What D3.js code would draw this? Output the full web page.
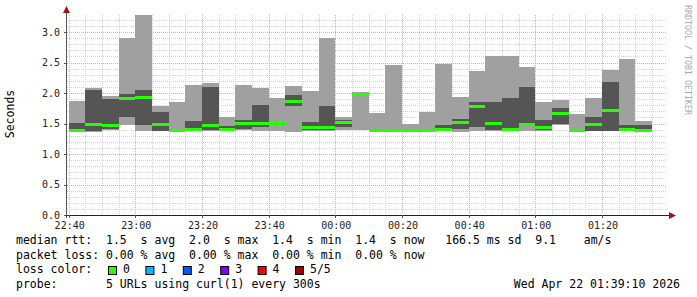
<!DOCTYPE html>
<meta charset="utf-8">
<style>
body { margin: 0; background: #fff; }
text { font-family: "DejaVu Sans Mono", monospace; fill: #000; }
.pre { white-space: pre; }
</style>
<script src="https://cdn.jsdelivr.net/npm/d3@7"></script>
<body>
<script>
// 5 minute buckets, sorted curl times per bucket (seconds)
const slots = ['22:40','22:45','22:50','22:55','23:00','23:05','23:10','23:15','23:20','23:25',
  '23:30','23:35','23:40','23:45','23:50','23:55','00:00','00:05','00:10','00:15',
  '00:20','00:25','00:30','00:35','00:40','00:45','00:50','00:55','01:00','01:05',
  '01:10','01:15','01:20','01:25','01:30'];
const pMin  = [1.36,1.36,1.40,1.47,1.38,1.37,1.36,1.38,1.38,1.37,1.40,1.38,1.37,1.36,1.38,1.38,1.39,1.39,1.36,1.36,
               1.37,1.37,1.37,1.36,1.38,1.37,1.37,1.37,1.38,1.47,1.37,1.37,1.37,1.37,1.37];
const pLow  = [1.38,1.38,1.41,1.60,1.47,1.38,1.37,1.39,1.40,1.39,1.41,1.45,1.49,1.79,1.39,1.39,1.45,1.96,1.37,1.37,
               1.38,1.38,1.39,1.41,1.45,1.39,1.39,1.47,1.40,1.50,1.38,1.38,1.38,1.38,1.38];
const median= [1.39,1.48,1.46,1.91,1.93,1.48,1.38,1.41,1.46,1.41,1.50,1.50,1.50,1.86,1.43,1.44,1.51,1.98,1.38,1.38,
               1.39,1.39,1.41,1.52,1.78,1.50,1.40,1.48,1.44,1.66,1.39,1.48,1.72,1.40,1.39];
const pHigh = [1.51,2.05,1.90,1.98,2.05,1.69,1.40,1.54,2.10,1.46,1.56,1.80,1.51,1.97,1.53,1.79,1.56,2.00,1.39,1.39,
               1.41,1.40,1.48,1.57,1.86,1.85,1.92,2.10,1.56,1.75,1.40,1.61,2.18,1.47,1.48];
const pMax  = [1.87,2.08,1.95,2.91,3.28,1.79,1.85,2.13,2.16,1.61,2.13,2.09,1.92,2.11,2.03,2.91,1.60,2.01,1.68,2.46,
               1.50,1.69,2.48,1.94,2.36,2.60,2.60,2.43,1.85,1.89,1.66,1.92,2.38,2.56,1.54];

const yTicks = [0, 0.5, 1.0, 1.5, 2.0, 2.5, 3.0];
const lossLabels = ['0', '1', '2', '3', '4', '5/5'];
const lossColors = ['#26ff00', '#00b8ff', '#0059ff', '#7e00ff', '#ff0000', '#a00000'];

const legendLines = [
  'median rtt:  1.5  s avg  2.0  s max  1.4  s min  1.4  s now   166.5 ms sd  9.1    am/s',
  'packet loss: 0.00 % avg  0.00 % max  0.00 % min  0.00 % now',
  'loss color:',
  'probe:       5 URLs using curl(1) every 300s'
];
const stamp = 'Wed Apr 22 01:39:10 2026';

const W = 697, H = 297;
const pl = 67, pr = 667, pt = 15, pb = 215;

const parseT = s => {
  const [h, m] = s.split(':').map(Number);
  return new Date(2026, 3, h >= 12 ? 21 : 22, h, m);
};
const times = slots.map(parseT);

const svg = d3.select('body').append('svg')
  .attr('width', W).attr('height', H);
svg.append('rect').attr('width', W).attr('height', H).attr('fill', '#fff');

const x = d3.scaleTime()
  .domain([new Date(2026, 3, 21, 22, 39, 30), new Date(2026, 3, 22, 1, 39, 30)])
  .range([pl, pr]);
const y = d3.scaleLinear().domain([0, 3.28]).range([pb, pt]);

// grid
const grid = svg.append('g');
const minorX = d3.timeMinute.every(5).range(x.domain()[0], x.domain()[1]);
const majorX = d3.timeMinute.every(20).range(x.domain()[0], x.domain()[1]);
grid.selectAll('.vx').data(minorX).join('line')
  .attr('x1', d => Math.round(x(d)) + 0.5).attr('x2', d => Math.round(x(d)) + 0.5)
  .attr('y1', pt).attr('y2', pb)
  .attr('stroke', '#d4d4d4').attr('stroke-dasharray', '1,1');
grid.selectAll('.hy').data(d3.range(1, 33).map(i => i / 10)).join('line')
  .attr('y1', d => Math.round(y(d)) + 0.5).attr('y2', d => Math.round(y(d)) + 0.5)
  .attr('x1', pl).attr('x2', pr)
  .attr('stroke', '#d4d4d4').attr('stroke-dasharray', '1,1');
grid.selectAll('.mx').data(majorX).join('line')
  .attr('x1', d => Math.round(x(d)) + 0.5).attr('x2', d => Math.round(x(d)) + 0.5)
  .attr('y1', pt).attr('y2', pb)
  .attr('stroke', '#eba3a3').attr('stroke-dasharray', '1,1');
grid.selectAll('.my').data(yTicks.slice(1)).join('line')
  .attr('y1', d => Math.round(y(d)) + 0.5).attr('y2', d => Math.round(y(d)) + 0.5)
  .attr('x1', pl).attr('x2', pr)
  .attr('stroke', '#eba3a3').attr('stroke-dasharray', '1,1');

// smoke
const x0 = i => x(times[i]);
const x1 = i => x(d3.timeMinute.offset(times[i], 5));
const smoke = svg.append('g').attr('shape-rendering', 'crispEdges');
smoke.selectAll('.light').data(slots).join('rect')
  .attr('x', (d, i) => x0(i)).attr('width', (d, i) => x1(i) - x0(i))
  .attr('y', (d, i) => y(pMax[i])).attr('height', (d, i) => y(pMin[i]) - y(pMax[i]))
  .attr('fill', '#a0a0a0');
smoke.selectAll('.dark').data(slots).join('rect')
  .attr('x', (d, i) => x0(i)).attr('width', (d, i) => x1(i) - x0(i))
  .attr('y', (d, i) => y(pHigh[i])).attr('height', (d, i) => y(pLow[i]) - y(pHigh[i]))
  .attr('fill', '#555555');
smoke.selectAll('.med').data(slots).join('rect')
  .attr('x', (d, i) => x0(i)).attr('width', (d, i) => x1(i) - x0(i))
  .attr('y', (d, i) => y(median[i]) - 1.5).attr('height', 3)
  .attr('fill', lossColors[0]);

// axes
const ax = svg.append('g');
ax.append('line').attr('x1', pl - 0.5).attr('x2', pl - 0.5).attr('y1', pb + 3).attr('y2', 11)
  .attr('stroke', '#555');
ax.append('line').attr('x1', pl - 3).attr('x2', 670).attr('y1', pb + 0.5).attr('y2', pb + 0.5)
  .attr('stroke', '#222');
ax.append('path').attr('d', `M${pl - 4},13 L${pl - 0.5},6 L${pl + 3},13 Z`).attr('fill', '#9b1414');
ax.append('path').attr('d', `M669,${pb - 3} L676,${pb + 0.5} L669,${pb + 4} Z`).attr('fill', '#9b1414');
ax.selectAll('.yt').data(yTicks).join('line')
  .attr('x1', pl - 3).attr('x2', pl).attr('y1', d => Math.round(y(d)) + 0.5).attr('y2', d => Math.round(y(d)) + 0.5)
  .attr('stroke', '#555');
ax.selectAll('.xt').data(majorX).join('line')
  .attr('x1', d => Math.round(x(d)) + 0.5).attr('x2', d => Math.round(x(d)) + 0.5)
  .attr('y1', pb).attr('y2', pb + 3).attr('stroke', '#555');

ax.selectAll('.yl').data(yTicks).join('text')
  .attr('x', 60).attr('y', d => y(d) + 3.5).attr('text-anchor', 'end')
  .style('font-size', '10px').style('fill', '#222')
  .text(d => d.toFixed(1));
ax.selectAll('.xl').data(majorX).join('text')
  .attr('x', d => x(d) + 1).attr('y', 229).attr('text-anchor', 'middle')
  .style('font-size', '10px').style('fill', '#222')
  .text(d => d3.timeFormat('%H:%M')(d));

svg.append('text')
  .attr('transform', 'translate(14,114) rotate(-90)').attr('text-anchor', 'middle')
  .style('font-size', '11.5px')
  .text('Seconds');
svg.append('text')
  .attr('transform', 'translate(685,5) rotate(90)').attr('text-anchor', 'start')
  .style('font-size', '8.3px').style('fill', '#aaa')
  .text('RRDTOOL / TOBI OETIKER');

// legend
const base = [244, 258.5, 273, 287.5];
svg.selectAll('.lg').data(legendLines).join('text')
  .attr('class', 'pre').attr('x', 16).attr('y', (d, i) => base[i])
  .style('font-size', '11.5px')
  .text(d => d);
const lc = svg.append('g');
lossLabels.forEach((l, i) => {
  const bx = 108 + i * 37.4;
  lc.append('rect').attr('x', bx + 0.5).attr('y', 266.5).attr('width', 8).attr('height', 8)
    .attr('fill', lossColors[i]).attr('stroke', '#000');
  lc.append('text').attr('x', bx + 15).attr('y', base[2]).style('font-size', '11.5px').text(l);
});
svg.append('text').attr('x', 680).attr('y', base[3]).attr('text-anchor', 'end')
  .style('font-size', '11.5px').text(stamp);
</script>
</body>
